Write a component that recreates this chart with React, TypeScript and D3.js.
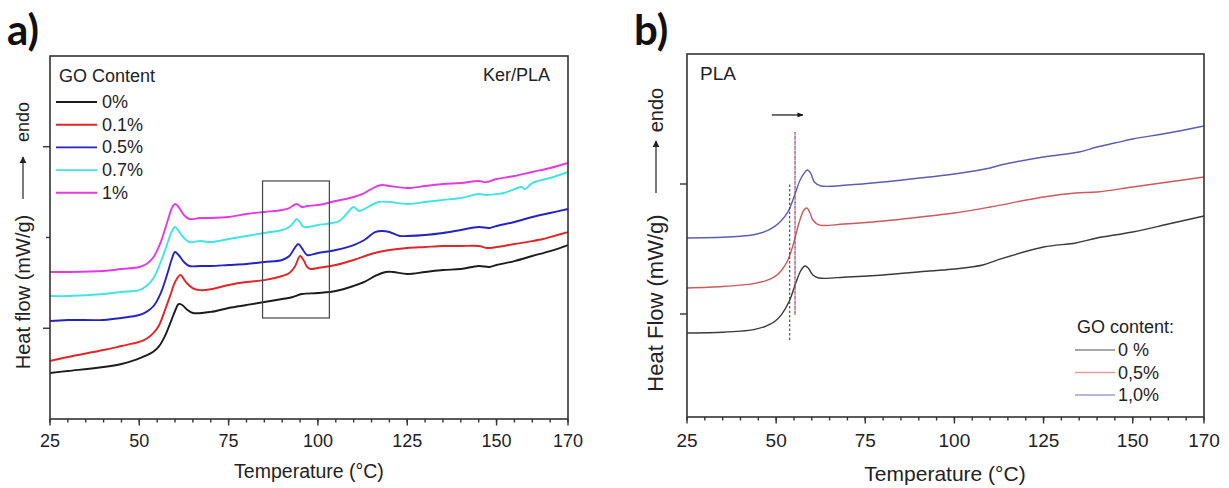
import React from "react";
import * as d3 from "d3";

type Pt = [number, number];

// ---------- Panel a: Ker/PLA (temperature °C, heat flow a.u.) ----------
const aLegendTitle = "GO Content";
const aSeriesNames = ["0%", "0.1%", "0.5%", "0.7%", "1%"];
const aColors = ["#1c1c1c", "#e02626", "#2424c4", "#3fe5e5", "#e43ae4"];

const a0: Pt[] = [
  [25, 0.507], [30, 0.529], [40, 0.573], [45, 0.606], [48, 0.64], [50, 0.668], [52, 0.7], [54, 0.745],
  [55.5, 0.8], [57, 0.9], [58, 0.99], [59, 1.09], [60, 1.19], [61, 1.267], [62, 1.256], [63.5, 1.2],
  [65, 1.168], [70, 1.18], [75, 1.223], [80, 1.256], [85, 1.289], [90, 1.322], [93, 1.344], [95.5, 1.377],
  [100, 1.388], [105, 1.41], [110, 1.466], [113, 1.51], [116, 1.576], [119, 1.62], [121, 1.62],
  [125, 1.598], [130, 1.62], [135, 1.642], [140, 1.653], [145, 1.686], [148, 1.675], [150, 1.697],
  [155, 1.74], [160, 1.796], [165, 1.85], [170, 1.917],
];
const a01: Pt[] = [
  [25, 0.639], [30, 0.683], [40, 0.76], [45, 0.804], [48, 0.83], [50, 0.85], [52, 0.885], [54, 0.95],
  [55.5, 1.03], [57, 1.18], [59, 1.4], [60, 1.51], [61.5, 1.587], [63, 1.51], [65, 1.44], [67, 1.42],
  [70, 1.43], [75, 1.477], [80, 1.51], [85, 1.53], [90, 1.576], [92, 1.609], [93.5, 1.675], [95, 1.796],
  [96, 1.75], [97, 1.675], [98, 1.653], [100, 1.664], [105, 1.697], [110, 1.752], [114, 1.807],
  [117, 1.84], [120, 1.862], [125, 1.884], [130, 1.895], [135, 1.906], [140, 1.906], [145, 1.906],
  [147.5, 1.884], [150, 1.895], [155, 1.928], [160, 1.96], [163, 1.983], [165, 2.005], [170, 2.06],
];
const a05: Pt[] = [
  [25, 1.08], [30, 1.091], [40, 1.091], [45, 1.113], [50, 1.146], [52, 1.18], [54, 1.245], [56, 1.388],
  [58, 1.62], [59, 1.752], [60, 1.84], [61, 1.807], [62.5, 1.73], [64, 1.686], [67, 1.686], [70, 1.686],
  [75, 1.697], [80, 1.708], [85, 1.73], [90, 1.752], [92, 1.796], [93.5, 1.884], [94.5, 1.928],
  [95.5, 1.884], [97, 1.807], [100, 1.829], [105, 1.862], [110, 1.917], [113, 1.972], [116, 2.06],
  [118, 2.072], [120, 2.061], [123, 2.017], [125, 2.017], [130, 2.028], [135, 2.05], [140, 2.083],
  [145, 2.116], [148, 2.105], [150, 2.127], [155, 2.171], [160, 2.226], [165, 2.27], [170, 2.314],
];
const a07: Pt[] = [
  [25, 1.355], [30, 1.355], [40, 1.377], [45, 1.4], [50, 1.421], [52, 1.466], [54, 1.554], [56, 1.73],
  [58, 1.95], [59, 2.06], [60, 2.116], [61, 2.072], [62.5, 1.994], [64, 1.95], [67, 1.961], [70, 1.95],
  [75, 1.983], [80, 2.017], [85, 2.05], [90, 2.083], [92, 2.116], [93.5, 2.182], [94, 2.204], [95, 2.17],
  [96, 2.116], [100, 2.138], [104, 2.16], [106, 2.182], [108, 2.259], [110, 2.336], [111.5, 2.292],
  [114, 2.336], [117, 2.391], [120, 2.391], [125, 2.369], [130, 2.391], [135, 2.413], [140, 2.435],
  [145, 2.479], [147, 2.468], [150, 2.479], [152, 2.49], [155, 2.534], [157, 2.556], [158, 2.534],
  [160, 2.6], [165, 2.656], [170, 2.722],
];
const a1: Pt[] = [
  [25, 1.62], [30, 1.62], [40, 1.631], [45, 1.653], [50, 1.675], [52, 1.708], [54, 1.785], [56, 1.95],
  [58, 2.193], [59, 2.314], [60, 2.369], [61, 2.336], [62.5, 2.248], [64, 2.204], [67, 2.215], [70, 2.215],
  [75, 2.226], [80, 2.259], [85, 2.281], [90, 2.303], [92, 2.325], [94, 2.369], [95.5, 2.336], [97, 2.347],
  [100, 2.358], [105, 2.402], [110, 2.446], [113, 2.49], [116, 2.556], [118, 2.578], [120, 2.567],
  [125, 2.545], [130, 2.567], [135, 2.59], [140, 2.6], [145, 2.623], [147, 2.61], [150, 2.645],
  [155, 2.678], [160, 2.722], [165, 2.766], [170, 2.821],
];
const aSeries = [a0, a01, a05, a07, a1];
// highlighted region (temperature range, heat-flow range)
const aBoxT = [84.5, 103.2];
const aBoxV = [1.113, 2.623];

// ---------- Panel b: PLA ----------
const bLegendTitle = "GO content:";
const bSeriesNames = ["0 %", "0,5%", "1,0%"];
const bColors = ["#3a3a3a", "#cf5858", "#5c5cb4"];
const bLegendColors = ["#8a8a8a", "#e49c9c", "#9c9cd2"];

const b0: Pt[] = [
  [25, 0.854], [35, 0.86], [40, 0.868], [44, 0.882], [47, 0.905], [49.5, 0.94], [51.5, 0.995],
  [53.7, 1.1], [55.6, 1.246], [57, 1.338], [58.1, 1.369], [59, 1.354], [60.3, 1.3], [62, 1.277],
  [70, 1.285], [80, 1.3], [93, 1.331], [100, 1.346], [108, 1.377], [112, 1.415], [125, 1.515],
  [134, 1.546], [140, 1.585], [150, 1.631], [160, 1.692], [170, 1.754],
];
const b05: Pt[] = [
  [25, 1.2], [35, 1.212], [40, 1.222], [44, 1.236], [47, 1.255], [49.5, 1.285], [51.5, 1.335],
  [53.3, 1.415], [55, 1.554], [56.4, 1.7], [57.8, 1.8], [58.6, 1.815], [59.5, 1.777], [60.3, 1.723],
  [62, 1.685], [69, 1.692], [80, 1.715], [93, 1.754], [100, 1.777], [110, 1.823], [125, 1.9],
  [134, 1.931], [140, 1.938], [150, 1.977], [160, 2.015], [170, 2.054],
];
const b1: Pt[] = [
  [25, 1.585], [35, 1.59], [40, 1.598], [44, 1.612], [47, 1.635], [49.5, 1.672], [51.5, 1.72],
  [53.3, 1.785], [55, 1.9], [57, 2.046], [58.8, 2.108], [59.8, 2.077], [60.7, 2.015], [62.6, 1.985],
  [70, 1.992], [80, 2.015], [93, 2.054], [100, 2.077], [110, 2.123], [113, 2.146], [125, 2.208],
  [135, 2.246], [140, 2.285], [145, 2.315], [150, 2.346], [160, 2.392], [170, 2.446],
];
const bSeries = [b0, b05, b1];
// Tg markers: [temperature, v from, v to]
const bTgBlack = [53.8, 0.8, 2.008];
const bTgShift = [55.3, 0.992, 2.4];
// shift arrow: [T from, T to, v]
const bArrow = [48.8, 57.5, 2.531];

const xTickLabels = [25, 50, 75, 100, 125, 150, 170];
const xMinor = d3.range(25, 171, 5);

const FONT = "'Liberation Sans', Arial, sans-serif";

function Frame({ x, y, ticksY, majorY }: any) {
  const [x0, x1] = x.range();
  const [y0, y1] = y.range();
  return (
    <g>
      <rect x={x0} y={y1} width={x1 - x0} height={y0 - y1} fill="none" stroke="#333" strokeWidth={1.6} />
      {xMinor.map((t: number) => (
        <line key={"m" + t} x1={x(t)} x2={x(t)} y1={y0} y2={y0 + 3.5} stroke="#333" strokeWidth={1.4} />
      ))}
      {xTickLabels.map((t) => (
        <line key={"M" + t} x1={x(t)} x2={x(t)} y1={y0} y2={y0 + 6.5} stroke="#333" strokeWidth={1.4} />
      ))}
      {ticksY.map((v: number, i: number) => (
        <line key={"y" + v} x1={x0} x2={x0 - (majorY[i] ? 7 : 4)} y1={y(v)} y2={y(v)} stroke="#333" strokeWidth={1.4} />
      ))}
    </g>
  );
}

export default function App() {
  // panel a scales
  const xa = d3.scaleLinear().domain([25, 170]).range([50, 568]);
  const ya = d3.scaleLinear().domain([0, 4]).range([419, 56]);
  // panel b scales
  const xb = d3.scaleLinear().domain([25, 170]).range([687, 1204]);
  const yb = d3.scaleLinear().domain([1 - 103 / 130, 3]).range([417, 54]);

  const lineA = d3.line<Pt>().x((d) => xa(d[0])).y((d) => ya(d[1])).curve(d3.curveCatmullRom.alpha(0.5));
  const lineB = d3.line<Pt>().x((d) => xb(d[0])).y((d) => yb(d[1])).curve(d3.curveCatmullRom.alpha(0.5));

  return (
    <div style={{ position: "absolute", left: 0, top: 0 }}>
      <svg width={1229} height={488} style={{ display: "block", background: "#fff" }} fontFamily={FONT}>
        <defs>
          <marker id="ah" viewBox="0 0 10 10" refX="9" refY="5" markerWidth="6" markerHeight="6" orient="auto-start-reverse">
            <path d="M0,0 L10,5 L0,10 z" fill="#222" />
          </marker>
          <marker id="ah2" viewBox="0 0 10 10" refX="9" refY="5" markerWidth="5" markerHeight="5" orient="auto-start-reverse">
            <path d="M0,1 L10,5 L0,9 z" fill="#111" />
          </marker>
        </defs>

        {/* ================= Panel a ================= */}
        <text x={7} y={45} fontFamily="Lato, 'Open Sans', sans-serif" fontWeight={700} fontSize={42} fill="#111">a)</text>
        {aSeries.map((s, i) => (
          <path key={i} d={lineA(s) || ""} fill="none" stroke={aColors[i]} strokeWidth={1.9} strokeLinejoin="round" />
        ))}
        <rect
          x={xa(aBoxT[0])}
          y={ya(aBoxV[1])}
          width={xa(aBoxT[1]) - xa(aBoxT[0])}
          height={ya(aBoxV[0]) - ya(aBoxV[1])}
          fill="none"
          stroke="#444"
          strokeWidth={1.2}
        />
        <Frame x={xa} y={ya} ticksY={[1, 2, 3]} majorY={[true, false, true]} />
        {xTickLabels.map((t) => (
          <text key={t} x={xa(t)} y={441} textAnchor="middle" dominantBaseline="central" fontSize={18} fill="#222">{t}</text>
        ))}
        <text x={309} y={471} textAnchor="middle" dominantBaseline="central" fontSize={19.5} fill="#222">Temperature (°C)</text>
        <text x={23} y={292} textAnchor="middle" dominantBaseline="central" fontSize={20} fill="#222" transform="rotate(-90,23,292)">Heat flow (mW/g)</text>
        <line x1={23} x2={23} y1={199} y2={157} stroke="#222" strokeWidth={1.2} markerEnd="url(#ah)" />
        <text x={23} y={122} textAnchor="middle" dominantBaseline="central" fontSize={18} fill="#222" transform="rotate(-90,23,122)">endo</text>

        <text x={59} y={76} dominantBaseline="central" fontSize={18} fill="#222">{aLegendTitle}</text>
        {aSeriesNames.map((n, i) => (
          <g key={n}>
            <line x1={56} x2={97} y1={102 + i * 22.7} y2={102 + i * 22.7} stroke={aColors[i]} strokeWidth={1.9} />
            <text x={102} y={102 + i * 22.7} dominantBaseline="central" fontSize={18} fill="#222">{n}</text>
          </g>
        ))}
        <text x={550} y={75} textAnchor="end" dominantBaseline="central" fontSize={18} fill="#222">Ker/PLA</text>

        {/* ================= Panel b ================= */}
        <text x={634} y={45} fontFamily="Lato, 'Open Sans', sans-serif" fontWeight={700} fontSize={42} fill="#111">b)</text>
        {bSeries.map((s, i) => (
          <path key={i} d={lineB(s) || ""} fill="none" stroke={bColors[i]} strokeWidth={1.4} strokeLinejoin="round" />
        ))}
        <line x1={xb(bTgBlack[0])} x2={xb(bTgBlack[0])} y1={yb(bTgBlack[1])} y2={yb(bTgBlack[2])} stroke="#444" strokeWidth={1.1} strokeDasharray="2.5,2" />
        <line x1={xb(bTgShift[0])} x2={xb(bTgShift[0])} y1={yb(bTgShift[1])} y2={yb(bTgShift[2])} stroke="#d04848" strokeWidth={1.1} strokeDasharray="3,2" />
        <line x1={xb(bTgShift[0])} x2={xb(bTgShift[0])} y1={yb(bTgShift[1])} y2={yb(bTgShift[2])} stroke="#5050a8" strokeWidth={1.1} strokeDasharray="2,3" strokeDashoffset={2.5} />
        <line x1={xb(bArrow[0])} x2={xb(bArrow[1])} y1={yb(bArrow[2])} y2={yb(bArrow[2])} stroke="#111" strokeWidth={1.2} markerEnd="url(#ah2)" />
        <Frame x={xb} y={yb} ticksY={[1, 2]} majorY={[true, true]} />
        {xTickLabels.map((t) => (
          <text key={t} x={xb(t)} y={440} textAnchor="middle" dominantBaseline="central" fontSize={19} fill="#222">{t}</text>
        ))}
        <text x={945} y={473} textAnchor="middle" dominantBaseline="central" fontSize={21} fill="#222">Temperature (°C)</text>
        <text x={655} y={303} textAnchor="middle" dominantBaseline="central" fontSize={22} fill="#222" transform="rotate(-90,655,303)">Heat Flow (mW/g)</text>
        <line x1={656} x2={656} y1={193} y2={141} stroke="#222" strokeWidth={1.2} markerEnd="url(#ah)" />
        <text x={656} y={110} textAnchor="middle" dominantBaseline="central" fontSize={20} fill="#222" transform="rotate(-90,656,110)">endo</text>
        <text x={700} y={73} dominantBaseline="central" fontSize={19} fill="#222">PLA</text>

        <text x={1077} y={327} dominantBaseline="central" fontSize={18} fill="#222">{bLegendTitle}</text>
        {bSeriesNames.map((n, i) => (
          <g key={n}>
            <line x1={1075} x2={1115} y1={350 + i * 22.5} y2={350 + i * 22.5} stroke={bLegendColors[i]} strokeWidth={1.4} />
            <text x={1118} y={350 + i * 22.5} dominantBaseline="central" fontSize={18} fill="#222">{n}</text>
          </g>
        ))}
      </svg>
    </div>
  );
}
